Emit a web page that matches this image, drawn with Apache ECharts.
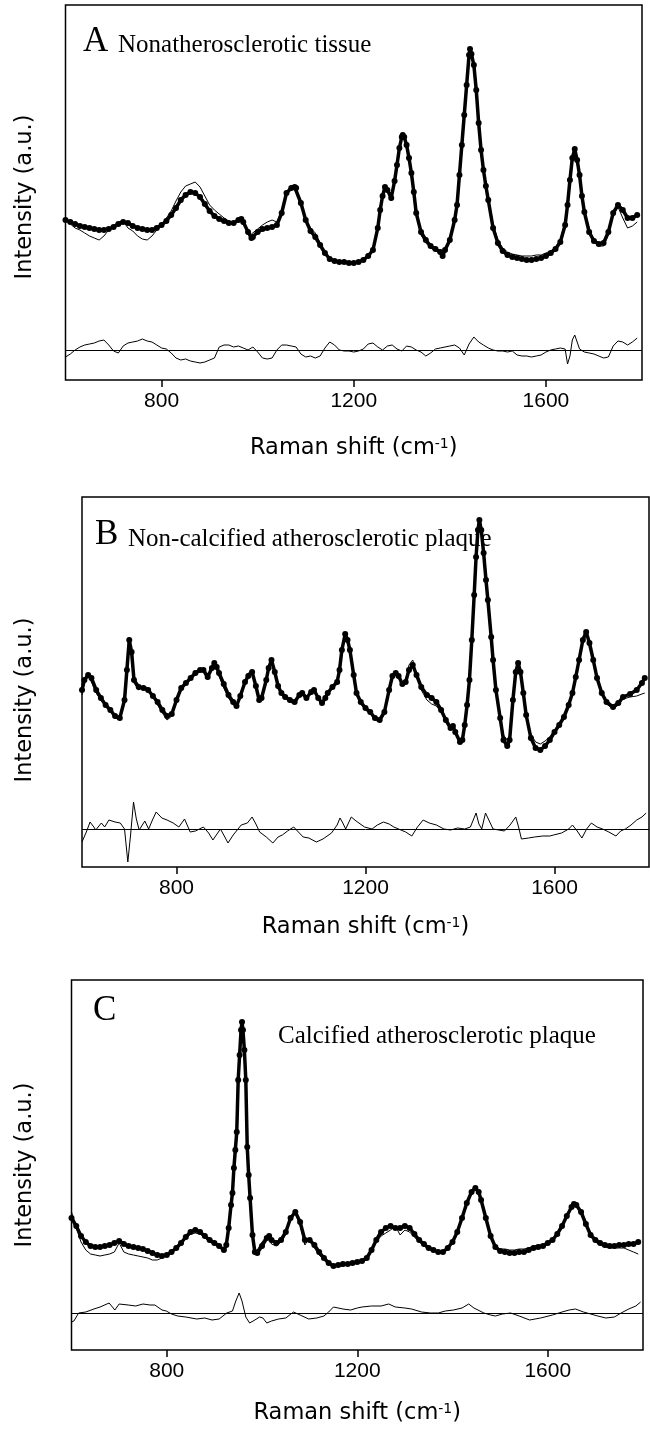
<!DOCTYPE html>
<html><head><meta charset="utf-8">
<script src="https://cdn.jsdelivr.net/npm/echarts@6/dist/echarts.min.js"></script>
<style>html,body{margin:0;padding:0;background:#fff}#c{width:650px;height:1431px}</style>
</head><body><div id="c"></div>
<script>
// ---------- Panel A : Nonatherosclerotic tissue ----------
const A_shift = [
600,610,620,630,640,650,660,670,680,690,
700,710,720,730,740,750,760,770,780,790,
800,810,820,830,840,850,860,870,880,890,
900,910,920,930,940,950,960,966,970,980,
987,990,1000,1010,1020,1030,1040,1050,1060,1070,
1077,1080,1090,1100,1110,1120,1130,1140,1150,1160,
1170,1180,1190,1200,1210,1220,1230,1240,1250,1255,
1260,1265,1270,1278,1285,1290,1295,1300,1302,1305,
1310,1315,1320,1325,1330,1340,1350,1360,1370,1380,
1385,1390,1400,1410,1415,1420,1425,1430,1435,1440,
1442,1445,1450,1455,1460,1465,1470,1475,1480,1490,
1500,1510,1520,1530,1540,1550,1560,1570,1580,1590,
1600,1610,1620,1630,1640,1645,1650,1655,1660,1665,
1670,1675,1680,1690,1700,1710,1720,1730,1740,1750,
1760,1770,1780,1790];
const A_fit = [
160,158,156,154,153,152,151,150,150,151,
153,156,158,157,154,152,151,150,150,152,
155,159,165,172,180,185,188,187,183,176,
169,164,161,159,157,157,160,161,158,148,
142,143,148,151,152,153,155,167,187,192,
193,192,177,160,149,143,135,127,121,119,
118,118,117,117,118,120,124,130,152,170,
184,193,190,182,199,215,232,243,245,243,
235,222,207,188,167,148,140,134,131,128,
124,130,140,160,175,205,235,265,295,325,
331,326,315,290,257,230,210,194,180,152,
137,129,125,123,122,121,120,120,121,122,
124,127,131,138,155,175,200,222,231,220,
205,184,168,148,139,136,137,148,167,175,
170,162,162,165];
const A_meas = [
162,156,152,150,147,144,142,140,144,150,
154,158,159,152,149,144,141,140,144,150,
156,162,169,179,188,194,196,198,193,184,
175,170,166,162,159,156,161,162,157,149,
146,147,151,155,158,160,158,169,188,194,
194,193,178,161,152,147,137,128,121,118,
117,118,118,117,118,121,124,131,154,172,
187,194,190,179,198,214,232,243,245,243,
234,222,206,187,165,145,137,132,129,127,
121,130,140,160,175,205,235,265,295,325,
331,326,315,290,257,230,210,194,182,156,
140,132,128,126,125,124,124,124,125,125,
127,129,133,140,158,177,203,223,230,220,
204,184,170,152,138,134,134,145,165,173,
162,152,154,158];
const A_resShift = [
600,610,620,630,640,650,660,670,680,690,
700,710,720,730,740,750,760,770,780,790,
800,810,820,830,840,850,860,870,880,890,
900,910,920,930,940,950,960,970,980,990,
1000,1010,1020,1030,1040,1050,1060,1070,1080,1090,
1100,1110,1120,1130,1140,1150,1160,1170,1180,1190,
1200,1210,1220,1230,1240,1250,1260,1270,1280,1290,
1300,1310,1320,1330,1340,1350,1360,1370,1380,1390,
1400,1410,1420,1430,1440,1450,1460,1470,1480,1490,
1500,1510,1520,1530,1540,1550,1560,1570,1580,1590,
1600,1610,1620,1630,1640,
1645,1650,1655,1660,1665,1670,
1680,1690,1700,1710,1720,1730,1740,1750,1760,1770,1780,1790];
const A_res = [
-7,-4,0,3,5,6,7,9,10,5,
-1,-3,4,7,8,9,11,9,8,5,
2,1,-3,-8,-10,-9,-11,-12,-13,-12,
-10,-8,3,5,5,3,4,2,0,3,
-2,-8,-9,-8,0,5,5,4,3,-4,
-7,-6,-8,-6,2,8,5,0,-1,-1,
-2,-1,1,6,7,3,0,4,5,1,
-1,4,3,0,-2,-6,-3,1,2,3,
4,5,2,-5,6,13,8,5,2,0,
-1,-1,-2,-1,-5,-6,-6,-7,-6,-5,
-2,0,1,2,1,
-14,-6,10,15,8,1,
-2,-3,-4,-6,-8,-7,4,9,8,5,8,12];

// ---------- Panel B : Non-calcified atherosclerotic plaque ----------
const B_shift = [
600,605,613,620,630,640,650,660,670,680,
690,695,700,705,710,720,730,740,750,760,
770,780,790,800,810,820,830,840,850,857,
866,875,880,885,890,900,910,920,927,935,
945,952,960,968,975,980,990,995,1001,1008,
1015,1022,1030,1040,1050,1060,1066,1075,1085,1091,
1100,1108,1115,1120,1130,1140,1145,1150,1157,1162,
1167,1175,1181,1190,1200,1210,1220,1230,1240,1250,
1257,1264,1270,1278,1285,1292,1300,1308,1318,1330,
1340,1350,1360,1370,1380,1385,1390,1400,1405,1410,
1415,1420,1425,1430,1434,1438,1441,1445,1450,1455,
1459,1466,1470,1476,1485,1492,1500,1505,1512,1518,
1523,1528,1534,1540,1550,1560,1570,1580,1590,1600,
1610,1620,1630,1638,1645,1652,1660,1667,1674,1682,
1690,1700,1710,1724,1735,1745,1760,1774,1785,1791];
const B_fit = [
177,187,192,189,177,169,162,157,151,149,
167,197,227,215,187,180,179,177,171,165,
157,151,153,167,179,184,189,194,197,197,
190,199,204,200,194,183,172,165,161,171,
185,191,195,181,167,169,187,199,207,195,
181,174,170,167,165,172,174,169,175,177,
169,164,169,174,180,185,197,217,233,227,
217,192,174,165,159,155,149,147,155,177,
191,194,191,183,185,197,202,192,180,172,
169,165,157,147,139,141,135,125,127,142,
162,187,227,272,310,337,347,337,314,287,
267,230,207,177,149,127,121,127,167,195,
204,195,174,152,129,119,117,121,127,135,
142,150,162,174,190,207,227,235,224,207,
189,174,165,160,164,170,173,177,184,189];
const B_meas = [
172,184,191,185,174,167,161,155,149,147,
165,199,230,217,184,177,181,179,170,162,
154,147,151,165,177,183,188,195,199,195,
187,201,205,199,191,179,169,162,159,170,
187,194,197,179,165,167,185,201,209,193,
179,172,169,165,163,171,173,167,177,179,
167,162,167,173,179,184,196,216,232,226,
215,189,172,163,157,153,147,145,153,175,
189,193,189,181,187,202,207,193,177,167,
163,161,155,146,138,140,134,127,129,143,
162,187,227,272,310,337,347,337,314,287,
267,230,207,177,151,132,127,131,167,195,
204,195,172,153,133,125,123,126,130,137,
143,151,162,174,190,207,227,235,224,207,
189,173,163,158,162,168,170,171,173,174];
const B_resShift = [
600,610,617,625,629,641,648,657,670,681,
690,697,703,709,715,721,733,741,750,757,
769,780,793,805,817,829,840,857,868,877,
893,900,909,920,937,950,960,968,976,990,
1004,1015,1024,1035,1048,1060,1068,1080,1096,1110,
1128,1140,1146,1152,1158,1170,1180,1198,1214,1225,
1238,1250,1260,1270,1285,1298,1310,1322,1335,1350,
1366,1380,1395,1410,1422,1434,1440,1446,1454,1462,
1470,1482,1494,1506,1518,1524,1530,1545,1558,1575,
1590,1598,1615,1630,1638,1648,1658,1668,1678,1690,
1702,1715,1730,1740,1750,1762,1774,1785,1794];
const B_res = [
-13,-2,7,2,-1,6,2,9,7,6,
0,-33,-5,27,10,-1,8,0,10,17,
11,9,6,2,10,-3,-2,2,-4,-11,
0,-6,-14,-6,4,6,12,5,-3,-8,
-14,-8,-6,-2,2,-4,-8,-9,-13,-10,
-4,4,11,6,0,12,8,2,0,4,
7,5,2,0,-3,-7,2,9,6,4,
0,-1,1,0,2,16,5,0,16,8,
0,-1,-2,4,12,2,-10,-9,-8,-7,
-7,-6,-4,0,4,-2,-9,0,6,2,
0,-3,-7,-2,0,4,9,12,16];

// ---------- Panel C : Calcified atherosclerotic plaque ----------
const C_shift = [
600,610,620,630,640,650,660,670,680,690,
700,710,720,730,740,750,760,770,780,790,
800,810,820,830,840,850,860,870,880,890,
900,910,920,925,930,935,938,941,944,947,
950,953,956,958,960,963,966,969,972,975,
980,985,990,1000,1010,1015,1020,1030,1040,1050,
1060,1070,1080,1090,1100,1110,1120,1130,1140,1150,
1160,1170,1180,1190,1200,1210,1220,1230,1240,1250,
1260,1270,1280,1290,1300,1310,1320,1330,1340,1350,
1360,1370,1380,1390,1400,1410,1420,1430,1440,1448,
1455,1460,1470,1480,1490,1500,1510,1520,1530,1540,
1550,1560,1570,1580,1590,1600,1610,1620,1630,1640,
1650,1655,1660,1670,1680,1690,1700,1710,1720,1730,
1740,1750,1760,1770,1780,1790];
const C_fit = [
132,124,114,108,104,103,103,104,105,107,
109,106,104,103,102,101,99,97,95,94,
95,98,102,107,113,118,120,118,114,110,
107,104,100,105,122,145,157,182,200,218,
270,295,320,328,320,300,270,203,175,152,
115,98,97,104,112,114,110,107,110,118,
132,138,128,110,110,105,98,92,87,84,
85,86,86,87,88,89,92,100,110,118,
122,124,122,122,124,122,116,110,106,102,
100,98,98,102,108,118,132,147,158,162,
158,150,132,114,103,99,98,97,97,98,
98,100,102,103,104,107,110,116,124,134,
143,146,145,138,126,115,110,107,105,104,
104,105,105,106,106,108];
const C_meas = [
138,122,108,100,96,95,94,95,96,98,
107,98,96,95,94,93,92,90,90,92,
95,98,101,106,112,116,117,116,112,108,
106,103,100,105,122,145,157,182,200,218,
270,295,320,328,320,300,270,203,175,152,
112,95,100,108,114,112,106,104,108,116,
130,137,125,105,112,102,95,90,86,83,
84,84,85,86,87,88,91,98,108,114,
117,120,124,115,120,118,113,108,104,101,
99,97,97,101,107,117,131,146,157,161,
157,149,131,114,104,101,101,100,100,101,
101,102,104,105,105,108,110,116,124,134,
142,145,144,137,125,114,108,105,103,102,
102,102,102,100,98,96];
const C_resShift = [
600,605,615,630,647,660,679,691,700,719,
735,750,765,775,790,799,810,823,840,863,
880,895,910,926,938,945,952,958,966,974,
985,995,1002,1010,1020,1035,1050,1066,1080,1098,
1115,1130,1140,1150,1170,1186,1200,1210,1230,1250,
1266,1280,1300,1314,1335,1354,1370,1385,1402,1420,
1434,1445,1466,1480,1490,1505,1522,1540,1562,1585,
1610,1630,1645,1658,1675,1690,1705,1722,1740,1754,
1770,1785,1795];
const C_res = [
-9,-8,0,1,4,6,10,3,9,8,
7,9,8,8,3,2,-1,-3,-4,-6,
-5,-7,-6,0,2,12,20,12,-4,-10,
-7,-4,-5,-10,-8,-6,-5,1,-2,-6,
-5,-3,1,6,4,3,5,6,7,7,
9,6,5,4,1,0,0,2,3,5,
9,5,0,-2,-3,-1,0,-3,-7,-5,
-2,1,3,4,1,-1,-3,-5,-4,0,
4,7,11];

// ---------- text ----------
const tickValues = [800, 1200, 1600];
const panelLetters = ['A', 'B', 'C'];
const panelTitles = ['Nonatherosclerotic tissue', 'Non-calcified atherosclerotic plaque', 'Calcified atherosclerotic plaque'];
const xTitle = 'Raman shift (cm{sup|-1})';
const yTitle = 'Intensity (a.u.)';

const SANS = 'Liberation Sans, Arial, sans-serif';
const TITLE_SANS = 'DejaVu Sans, Liberation Sans, sans-serif';
const SERIF = 'Liberation Serif, Times New Roman, serif';
const zip = (xs, ys) => xs.map((x, i) => [x, ys[i]]);

const panels = [
  {grid:{left:65.5, top:5, width:576.5, height:375}, yMax:375, resMin:-30, resMax:345, xGap:57, yTitleY:197,
   shift:A_shift, fit:A_fit, meas:A_meas, rs:A_resShift, r:A_res,
   letterPos:[83,44], titlePos:[118,47]},
  {grid:{left:82, top:497, width:567, height:370}, yMax:370, resMin:-38, resMax:332, xGap:49, yTitleY:700,
   shift:B_shift, fit:B_fit, meas:B_meas, rs:B_resShift, r:B_res,
   letterPos:[95,537], titlePos:[128,540.5]},
  {grid:{left:71.5, top:980, width:571.5, height:370}, yMax:370, resMin:-37, resMax:333, xGap:52, yTitleY:1165,
   shift:C_shift, fit:C_fit, meas:C_meas, rs:C_resShift, r:C_res,
   letterPos:[93,1013], titlePos:[278,1037.5]}
];

const grid = [], xAxis = [], yAxis = [], series = [], graphic = [];
panels.forEach((p, i) => {
  grid.push(Object.assign({show:true, borderColor:'#000', borderWidth:1.5, backgroundColor:'transparent'}, p.grid));
  xAxis.push({
    type:'value', gridIndex:i, min:600, max:1800,
    axisLine:{show:false}, splitLine:{show:false},
    axisTick:{show:true, inside:false, length:7, customValues:tickValues, lineStyle:{color:'#000', width:1.5}},
    axisLabel:{show:true, customValues:tickValues, formatter:(v) => String(v),
      color:'#000', fontSize:21, fontFamily:SANS, margin:11},
    name:xTitle, nameLocation:'middle', nameGap:p.xGap,
    nameTextStyle:{color:'#000', fontSize:22.5, fontFamily:TITLE_SANS,
      rich:{sup:{fontSize:14, fontFamily:TITLE_SANS, color:'#000', verticalAlign:'top'}}}
  });
  yAxis.push({
    type:'value', gridIndex:i, min:0, max:p.yMax,
    axisLine:{show:false}, axisTick:{show:false}, axisLabel:{show:false}, splitLine:{show:false}
  });
  yAxis.push({
    type:'value', gridIndex:i, min:p.resMin, max:p.resMax, show:false
  });
  series.push({
    type:'line', xAxisIndex:i, yAxisIndex:2*i, data:zip(p.shift, p.fit),
    symbol:'circle', symbolSize:6, showAllSymbol:true,
    lineStyle:{color:'#000', width:3.5}, itemStyle:{color:'#000'}, z:2, silent:true
  });
  series.push({
    type:'line', xAxisIndex:i, yAxisIndex:2*i, data:zip(p.shift, p.meas),
    symbol:'none', lineStyle:{color:'#000', width:1}, z:3, silent:true
  });
  series.push({
    type:'line', xAxisIndex:i, yAxisIndex:2*i+1, data:zip(p.rs, p.r),
    symbol:'none', lineStyle:{color:'#000', width:1}, z:3, silent:true,
    markLine:{silent:true, symbol:'none', label:{show:false},
      lineStyle:{color:'#000', width:1, type:'solid'}, data:[{yAxis:0}]}
  });
  graphic.push({type:'text', x:25, y:p.yTitleY, rotation:Math.PI/2,
    style:{text:yTitle, font:'22.5px ' + TITLE_SANS, fill:'#000', align:'center', verticalAlign:'middle'}});
  graphic.push({type:'text', left:p.letterPos[0], top:p.letterPos[1]-20,
    style:{text:panelLetters[i], font:'35px ' + SERIF, fill:'#000'}});
  graphic.push({type:'text', left:p.titlePos[0], top:p.titlePos[1]-14,
    style:{text:panelTitles[i], font:'25px ' + SERIF, fill:'#000'}});
});

const chart = echarts.init(document.getElementById('c'), null, {renderer:'canvas'});
chart.setOption({animation:false, backgroundColor:'#fff', grid, xAxis, yAxis, series, graphic});
</script>
</body></html>
